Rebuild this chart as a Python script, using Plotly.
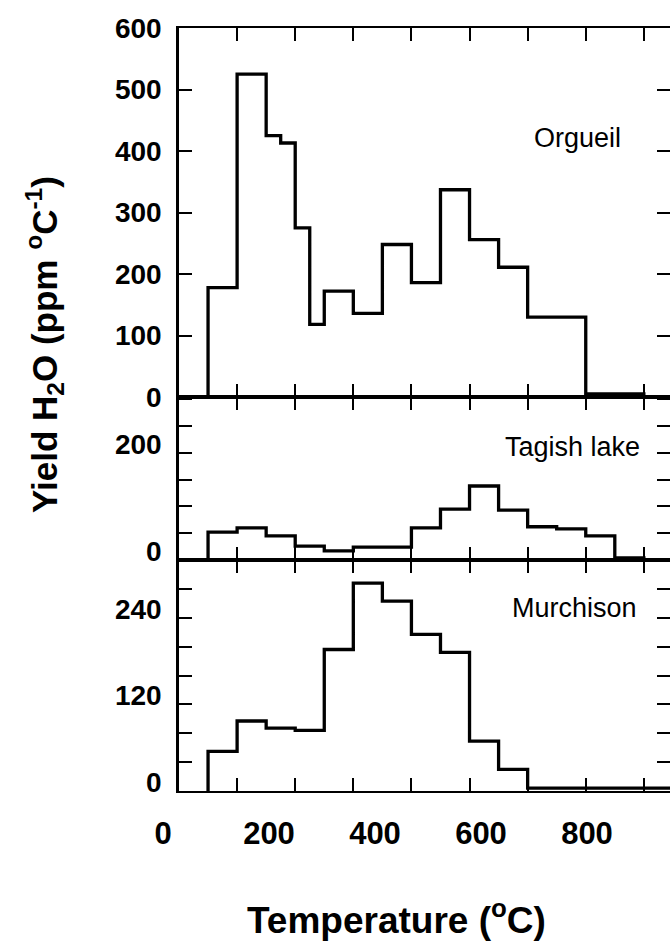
import plotly.graph_objects as go

# ---------------- data ----------------
orgueil_edges = [50, 100, 150, 175, 200, 225, 250, 300, 350, 400, 450, 500, 550, 600, 700, 800]
orgueil_vals = [178, 525, 425, 413, 275, 118, 172, 136, 248, 186, 337, 256, 211, 130, 5]

tagish_edges = [50, 100, 150, 200, 250, 300, 400, 450, 500, 550, 600, 650, 700, 750, 800]
tagish_vals = [52, 60, 45, 26, 17, 24, 60, 95, 138, 93, 62, 58, 45, 4]

murchison_edges = [50, 100, 150, 200, 250, 300, 350, 400, 450, 500, 550, 600, 850]
murchison_vals = [55, 97, 87, 84, 196, 288, 263, 217, 192, 69, 30, 4]

x_tick_vals = [0, 100, 200, 300, 400, 500, 600, 700, 800]
x_label_vals = [0, 200, 400, 600, 800]
x_label_text = ["0", "200", "400", "600", "800"]

y1_tick_vals = [0, 100, 200, 300, 400, 500, 600]
y1_tick_text = ["0", "100", "200", "300", "400", "500", "600"]
y2_tick_vals = [0, 50, 100, 150, 200, 250, 300]
y2_tick_text = ["0", "", "", "", "200", "", ""]
y3_tick_vals = [0, 40, 80, 120, 160, 200, 240, 280, 320]
y3_tick_text = ["0", "", "", "120", "", "", "240", "", ""]

panel_names = ["Orgueil", "Tagish lake", "Murchison"]

# ---------------- layout geometry ----------------
W, H = 670, 943
ML, MR, MT, MB = 150, 0, 28, 152
PW, PH = W - ML - MR, H - MT - MB
y_top, y_b1, y_b2, y_bot = 28, 397, 560, 791
x_left = 179


def fy(py):
    return (H - MB - py) / PH


def fx(px):
    return (px - ML) / PW


d1 = fy(y_b2)
d2 = fy(y_b1)
x_dom = [fx(x_left), 1]
# tick-label axis: 0 label at px 163, 800 label at px 587
lab_lo, lab_hi = -20, 820
lab0, lab800 = 163, 587
pxs = (lab800 - lab0) / 800.0
lab_dom = [fx(lab0 + lab_lo * pxs), fx(lab0 + lab_hi * pxs)]

FONT = "Liberation Sans"


def step_xy(edges, vals):
    return [edges[0]] + list(edges), [0] + list(vals) + [0]


fig = go.Figure()
for i, (e, v) in enumerate([(orgueil_edges, orgueil_vals),
                             (tagish_edges, tagish_vals),
                             (murchison_edges, murchison_vals)]):
    xs, ys = step_xy(e, v)
    suffix = "" if i == 0 else str(i + 1)
    fig.add_trace(go.Scatter(
        x=xs, y=ys, mode="lines", line=dict(color="black", width=3.3, shape="hv"),
        xaxis="x" + suffix, yaxis="y" + suffix, showlegend=False, hoverinfo="skip"))

# carrier for the temperature tick-label axis (invisible)
fig.add_trace(go.Scatter(x=x_label_vals, y=[0] * len(x_label_vals), mode="markers",
                         marker=dict(opacity=0, size=1), xaxis="x4", yaxis="y3",
                         showlegend=False, hoverinfo="skip"))

common_x = dict(range=[0, 845], tickvals=x_tick_vals, ticks="inside", ticklen=13,
                tickwidth=1.5, tickcolor="black", showline=True, linewidth=2,
                linecolor="black", mirror="ticks", showgrid=False, zeroline=False,
                domain=x_dom, showticklabels=False, automargin=False)
common_y = dict(ticks="inside", ticklen=13, tickwidth=1.5, tickcolor="black",
                showline=True, linewidth=2.5, linecolor="black", mirror="ticks",
                showgrid=False, zeroline=False, automargin=False,
                tickfont=dict(family=FONT, size=28, color="black", weight="bold"),
                ticklabelstandoff=9)

fig.update_layout(
    width=W, height=H,
    margin=dict(l=ML, r=MR, t=MT, b=MB, autoexpand=False),
    paper_bgcolor="white", plot_bgcolor="rgba(0,0,0,0)",
    xaxis=dict(anchor="y", **common_x),
    xaxis2=dict(anchor="y2", **common_x),
    xaxis3=dict(anchor="y3", **common_x),
    xaxis4=dict(anchor="free", position=0, domain=lab_dom, range=[lab_lo, lab_hi],
                tickvals=x_label_vals, ticktext=x_label_text, ticks="",
                showline=False, showgrid=False, zeroline=False, automargin=False,
                tickfont=dict(family=FONT, size=31, color="black", weight="bold"),
                ticklabelstandoff=21),
    yaxis=dict(anchor="x", domain=[d2, 1], range=[0, 600], tickvals=y1_tick_vals,
               ticktext=y1_tick_text, **common_y),
    yaxis2=dict(anchor="x2", domain=[d1, d2], range=[0, 304], tickvals=y2_tick_vals,
                ticktext=y2_tick_text, ticklabelshift=-9, **common_y),
    yaxis3=dict(anchor="x3", domain=[0, d1], range=[0, 320], tickvals=y3_tick_vals,
                ticktext=y3_tick_text, ticklabelshift=-9, **common_y),
)

label_font = dict(family=FONT, size=27, color="black")
fig.add_annotation(text=panel_names[0], x=685, y=421, xref="x", yref="y",
                   showarrow=False, font=label_font)
fig.add_annotation(text=panel_names[1], x=678, y=211, xref="x2", yref="y2",
                   showarrow=False, font=label_font)
fig.add_annotation(text=panel_names[2], x=680, y=253, xref="x3", yref="y3",
                   showarrow=False, font=label_font)

fig.add_annotation(text="Yield H<sub>2</sub>O (ppm <sup>o</sup>C<sup>-1</sup>)",
                   x=fx(44), y=fy(345), xref="paper", yref="paper", textangle=-90,
                   xanchor="center", yanchor="middle", showarrow=False,
                   font=dict(family=FONT, size=35, color="black", weight="bold"))
fig.add_annotation(text="Temperature (<sup>o</sup>C)",
                   x=fx(396), y=fy(918), xref="paper", yref="paper",
                   xanchor="center", yanchor="middle", showarrow=False,
                   font=dict(family=FONT, size=37, color="black", weight="bold"))

fig.write_html("out.html")
